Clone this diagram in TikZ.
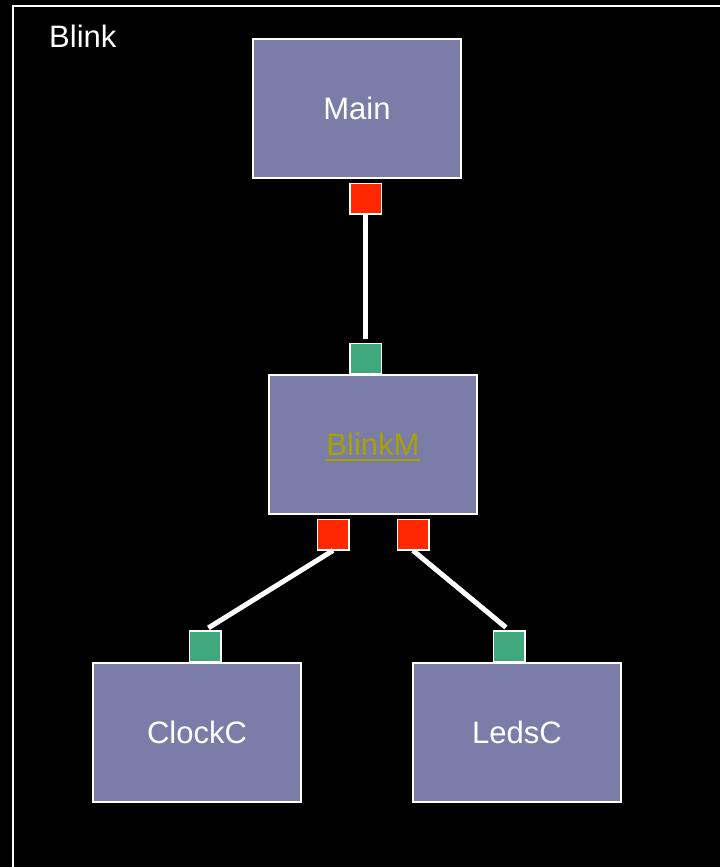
\documentclass[tikz,border=0pt]{standalone}
\usepackage{fontspec}
\setmainfont{Liberation Sans}
\definecolor{boxfill}{RGB}{123,125,168}
\definecolor{portred}{RGB}{255,40,0}
\definecolor{portgreen}{RGB}{64,168,124}
\definecolor{linkolive}{RGB}{168,162,0}
\tikzset{
  compbox/.style={draw=white, line width=2pt, fill=boxfill, minimum width=208pt, minimum height=139pt, inner sep=0pt, text=white, font=\fontsize{31}{37}\selectfont},
  portbox/.style={draw=white, line width=1.5pt, minimum width=31.5pt, minimum height=30.5pt, inner sep=0pt},
  outport/.style={portbox, fill=portred},
  inport/.style={portbox, fill=portgreen},
  wire/.style={draw=white, line width=5pt, shorten >=4pt},
}
\begin{document}
\begin{tikzpicture}[x=1pt,y=-1pt]
\useasboundingbox (0,0) rectangle (720,867);
\fill[black] (0,0) rectangle (720,867);
% frame
\coordinate (fbl) at (13,867);
\coordinate (ftl) at (13,6);
\coordinate (ftr) at (720,6);
\draw[white, line width=2.2pt] (fbl) -- (ftl) -- (ftr);
\node[anchor=base west, inner sep=0pt, text=white, font=\fontsize{31}{37}\selectfont] (title) at (49,48) {Blink};
% components
\node[compbox] (main) at (357,108.5) {Main};
\node[compbox] (blinkm) at (373,444.5) {};
\node[inner sep=0pt, text=linkolive, font=\fontsize{31}{37}\selectfont] (blinkmlbl) at (373,444.5) {BlinkM};
\draw[linkolive, line width=2pt] ([yshift=-4pt]blinkmlbl.base west) -- ([yshift=-4pt]blinkmlbl.base east);
\node[compbox] (clockc) at (197,732.5) {ClockC};
\node[compbox] (ledsc) at (517,732.5) {LedsC};
% ports
\node[outport] (p1) at (365.5,198.5) {};
\node[inport] (p2) at (365.5,358.5) {};
\node[outport] (p3) at (333,534.5) {};
\node[outport] (p4) at (413,534.5) {};
\node[inport] (p5) at (205,646) {};
\node[inport] (p6) at (509,646) {};
% wires
\draw[wire] (p1.south) -- (p2.north);
\draw[wire] (p3.south) -- (p5.north);
\draw[wire] (p4.south) -- (p6.north);
\end{tikzpicture}
\end{document}
